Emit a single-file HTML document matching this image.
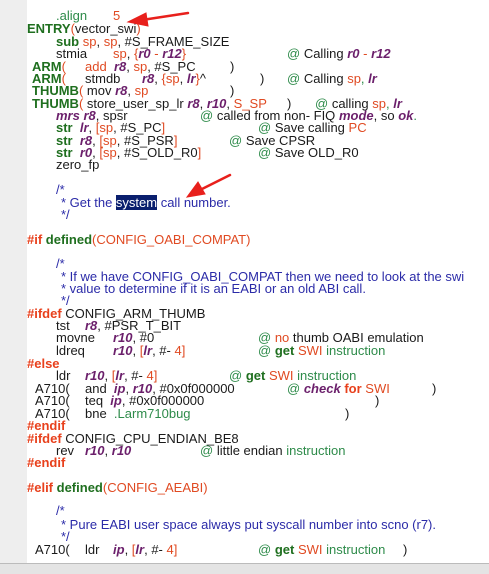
<!DOCTYPE html><html><head><meta charset="utf-8"><style>
body{margin:0;width:489px;height:573px;background:#fff;position:relative;overflow:hidden;font-family:"Liberation Sans",Tahoma,sans-serif;font-size:13px;color:#1a1a1a}
.g{position:absolute;left:0;top:0;width:27px;height:563px;background:#eeeeee}
.l{position:absolute;white-space:pre;line-height:14px;height:14px}
.k{color:#1f6f1f;font-weight:bold}
.r{color:#6b1f6b;font-weight:bold;font-style:italic}
.o{color:#e04a22}
.p{color:#e8401c;font-weight:bold}
.c{color:#2b2ba8}
.m{color:#2e8b4a}
.hl{background:#0a1f6e;color:#fff}
.sb{position:absolute;left:0;top:563px;width:489px;height:10px;background:#e4e4e4;border-top:1px solid #bbb}
</style></head><body>
<div class="g"></div>
<div class="l" style="top:9px;left:56px"><span class="m">.align</span></div><div class="l o" style="top:9px;left:113px">5</div>
<div class="l" style="top:22px;left:27px"><span class="k">ENTRY</span><span class="o">(</span>vector_swi<span class="o">)</span></div>
<div class="l" style="top:35px;left:56px"><span class="k">sub</span> <span class="o">sp</span>, <span class="o">sp</span>, #S_FRAME_SIZE</div>
<div class="l" style="top:47px;left:56px">stmia</div><div class="l" style="top:47px;left:113px"><span class="o">sp</span>, <span class="o">{</span><span class="r">r0</span> <span class="o">-</span> <span class="r">r12</span><span class="o">}</span></div><div class="l m" style="top:47px;left:287px">@ <span style="color:#1a1a1a">Calling</span> <span class="r">r0</span> <span class="o">-</span> <span class="r">r12</span></div>
<div class="l" style="top:60px;left:32px"><span class="k">ARM</span><span class="o">(</span></div><div class="l" style="top:60px;left:85px"><span class="o">add</span>  <span class="r">r8</span>, <span class="o">sp</span>, #S_PC</div><div class="l" style="top:60px;left:230px">)</div>
<div class="l" style="top:72px;left:32px"><span class="k">ARM</span><span class="o">(</span></div><div class="l" style="top:72px;left:85px">stmdb</div><div class="l" style="top:72px;left:142px"><span class="r">r8</span>, <span class="o">{sp</span>, <span class="r">lr</span><span class="o">}</span>^</div><div class="l" style="top:72px;left:260px">)</div><div class="l m" style="top:72px;left:287px">@ <span style="color:#1a1a1a">Calling</span> <span class="o">sp</span>, <span class="r">lr</span></div>
<div class="l" style="top:84px;left:32px"><span class="k">THUMB</span><span class="o">(</span> mov <span class="r">r8</span>, <span class="o">sp</span></div><div class="l" style="top:84px;left:230px">)</div>
<div class="l" style="top:97px;left:32px"><span class="k">THUMB</span><span class="o">(</span> store_user_sp_lr <span class="r">r8</span>, <span class="r">r10</span>, <span class="o">S_SP</span></div><div class="l" style="top:97px;left:287px">)</div><div class="l m" style="top:97px;left:315px">@ <span style="color:#1a1a1a">calling</span> <span class="o">sp</span>, <span class="r">lr</span></div>
<div class="l" style="top:109px;left:56px"><span class="r">mrs</span> <span class="r">r8</span>, spsr</div><div class="l m" style="top:109px;left:200px">@ <span style="color:#1a1a1a">called from non- FIQ</span> <span class="r">mode</span><span style="color:#1a1a1a">, so</span> <span class="r">ok</span>.</div>
<div class="l" style="top:121px;left:56px"><span class="k">str</span>  <span class="r">lr</span>, <span class="o">[sp</span>, #S_PC<span class="o">]</span></div><div class="l m" style="top:121px;left:258px">@ <span style="color:#1a1a1a">Save calling</span> <span class="o">PC</span></div>
<div class="l" style="top:134px;left:56px"><span class="k">str</span>  <span class="r">r8</span>, <span class="o">[sp</span>, #S_PSR<span class="o">]</span></div><div class="l m" style="top:134px;left:229px">@ <span style="color:#1a1a1a">Save CPSR</span></div>
<div class="l" style="top:146px;left:56px"><span class="k">str</span>  <span class="r">r0</span>, <span class="o">[sp</span>, #S_OLD_R0<span class="o">]</span></div><div class="l m" style="top:146px;left:258px">@ <span style="color:#1a1a1a">Save OLD_R0</span></div>
<div class="l" style="top:158px;left:56px">zero_fp</div>
<div class="l c" style="top:183px;left:56px">/*</div>
<div class="l c" style="top:196px;left:61px">* Get the <span class="hl">system</span> call number.</div>
<div class="l c" style="top:208px;left:61px">*/</div>
<div class="l" style="top:233px;left:27px"><span class="p">#if</span> <span class="k">defined</span><span class="o">(CONFIG_OABI_COMPAT)</span></div>
<div class="l c" style="top:257px;left:56px">/*</div>
<div class="l c" style="top:270px;left:61px">* If we have CONFIG_OABI_COMPAT then we need to look at the swi</div>
<div class="l c" style="top:282px;left:61px">* value to determine if it is an EABI or an old ABI call.</div>
<div class="l c" style="top:294px;left:61px">*/</div>
<div class="l" style="top:307px;left:27px"><span class="p">#ifdef</span> CONFIG_ARM_THUMB</div>
<div class="l" style="top:319px;left:56px">tst</div><div class="l" style="top:319px;left:85px"><span class="r">r8</span>, #PSR_T_BIT</div>
<div class="l" style="top:331px;left:56px">movne</div><div class="l" style="top:331px;left:113px"><span class="r">r10</span>, #0</div><div class="l m" style="top:331px;left:258px">@ <span class="o">no</span> <span style="color:#1a1a1a">thumb OABI emulation</span></div>
<div class="l" style="top:344px;left:56px">ldreq</div><div class="l" style="top:344px;left:113px"><span class="r">r10</span>, <span class="o">[</span><span class="r">lr</span>, #- <span class="o">4]</span></div><div class="l m" style="top:344px;left:258px">@ <span class="k">get</span> <span class="o">SWI</span> instruction</div>
<div class="l p" style="top:357px;left:27px">#else</div>
<div class="l" style="top:369px;left:56px">ldr</div><div class="l" style="top:369px;left:85px"><span class="r">r10</span>, <span class="o">[</span><span class="r">lr</span>, #- <span class="o">4]</span></div><div class="l m" style="top:369px;left:229px">@ <span class="k">get</span> <span class="o">SWI</span> instruction</div>
<div class="l" style="top:382px;left:35px">A710(</div><div class="l" style="top:382px;left:85px">and  <span class="r">ip</span>, <span class="r">r10</span>, #0x0f000000</div><div class="l m" style="top:382px;left:287px">@ <span class="r">check</span> <span class="p">for</span> <span class="o">SWI</span></div><div class="l" style="top:382px;left:432px">)</div>
<div class="l" style="top:394px;left:35px">A710(</div><div class="l" style="top:394px;left:85px">teq  <span class="r">ip</span>, #0x0f000000</div><div class="l" style="top:394px;left:375px">)</div>
<div class="l" style="top:407px;left:35px">A710(</div><div class="l" style="top:407px;left:85px">bne  <span class="m">.Larm710bug</span></div><div class="l" style="top:407px;left:345px">)</div>
<div class="l p" style="top:419px;left:27px">#endif</div>
<div class="l" style="top:432px;left:27px"><span class="p">#ifdef</span> CONFIG_CPU_ENDIAN_BE8</div>
<div class="l" style="top:444px;left:56px">rev</div><div class="l" style="top:444px;left:85px"><span class="r">r10</span>, <span class="r">r10</span></div><div class="l m" style="top:444px;left:200px">@ <span style="color:#1a1a1a">little endian</span> instruction</div>
<div class="l p" style="top:456px;left:27px">#endif</div>
<div class="l" style="top:481px;left:27px"><span class="p">#elif</span> <span class="k">defined</span><span class="o">(CONFIG_AEABI)</span></div>
<div class="l c" style="top:504px;left:56px">/*</div>
<div class="l c" style="top:518px;left:61px">* Pure EABI user space always put syscall number into scno (r7).</div>
<div class="l c" style="top:530px;left:61px">*/</div>
<div class="l" style="top:543px;left:35px">A710(</div><div class="l" style="top:543px;left:85px">ldr</div><div class="l" style="top:543px;left:113px"><span class="r">ip</span>, <span class="o">[</span><span class="r">lr</span>, #- <span class="o">4]</span></div><div class="l m" style="top:543px;left:258px">@ <span class="k">get</span> <span class="o">SWI</span> instruction</div><div class="l" style="top:543px;left:403px">)</div>
<div class="sb"></div>
<svg style="position:absolute;left:0;top:0" width="489" height="573">
<g fill="#e8201c" stroke="#e8201c" stroke-width="2.5" stroke-linecap="round">
<line x1="188" y1="13" x2="142" y2="20"/><polygon points="128,22 146,13 148,26" stroke-width="1"/>
<line x1="230" y1="175" x2="200" y2="190"/><polygon points="187,197 198,182 205,194" stroke-width="1"/>
</g></svg>
</body></html>
